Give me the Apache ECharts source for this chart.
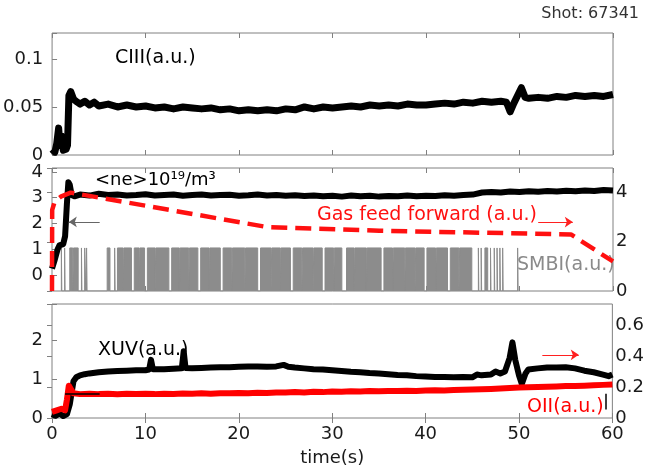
<!DOCTYPE html>
<html><head><meta charset="utf-8">
<script src="https://cdn.jsdelivr.net/npm/echarts@6/dist/echarts.min.js"></script>
<style>html,body{margin:0;padding:0;background:#fff}#c{width:647px;height:468px}</style>
</head><body><div id="c"></div>
<script>
// ---------- data ----------
const xTicks = [0, 10, 20, 30, 40, 50, 60];
const ciiiTicks = [0, 0.05, 0.1];
const neTicks = [0, 1, 2, 3, 4];
const gasTicks = [0, 2, 4];
const xuvTicks = [0, 1, 2];
const oiiTicks = [0, 0.2, 0.4, 0.6];

const ciiiT = [0,0.3,0.5,0.7,0.85,1.0,1.2,1.5,1.65,1.8,2.0,2.3,2.7,3,3.5,4,4.5,5,6,7,8,9,10,11,12,13,14,15,16,17,18,19,20,21,22,23,24,25,26,27,28,29,30,31,32,33,34,35,36,37,38,39,40,41,42,43,44,45,46,47,48,48.6,49.0,49.4,50.2,50.6,51,52,53,54,55,56,57,58,59,60];
const ciiiV = [0.006,0.003,0.012,0.028,0.01,0.02,0.005,0.006,0.01,0.062,0.066,0.058,0.055,0.053,0.056,0.052,0.055,0.051,0.053,0.050,0.052,0.050,0.051,0.049,0.050,0.048,0.050,0.049,0.048,0.049,0.047,0.048,0.046,0.047,0.046,0.047,0.046,0.048,0.047,0.050,0.048,0.050,0.049,0.050,0.051,0.050,0.052,0.051,0.052,0.051,0.053,0.052,0.052,0.053,0.054,0.053,0.055,0.054,0.056,0.055,0.056,0.055,0.045,0.054,0.070,0.060,0.059,0.060,0.059,0.061,0.060,0.062,0.061,0.062,0.061,0.063];

const neT = [0,0.3,0.6,0.8,1.0,1.2,1.4,1.6,1.75,1.9,2.1,2.4,3,4,5,6,7,8,9,10,11,12,13,14,15,16,17,18,19,20,21,22,23,24,25,26,27,28,29,30,31,32,33,34,35,36,37,38,39,40,41,42,43,44,45,46,47,48,49,50,51,52,53,54,55,56,57,58,59,60];
const neV = [0.25,0.6,1.0,1.15,1.1,1.2,1.5,2.8,3.6,3.5,3.1,3.05,3.12,3.08,3.15,3.10,3.12,3.08,3.10,3.13,3.08,3.10,3.12,3.07,3.10,3.12,3.08,3.10,3.11,3.07,3.09,3.12,3.08,3.10,3.07,3.09,3.06,3.08,3.05,3.07,3.04,3.08,3.05,3.07,3.04,3.06,3.05,3.08,3.05,3.07,3.06,3.09,3.07,3.10,3.12,3.20,3.22,3.20,3.24,3.22,3.25,3.23,3.26,3.24,3.27,3.25,3.28,3.26,3.30,3.28];

const gasT = [0,0.02,0.3,1.0,2.0,23,35,55.5,60];
const gasV = [0,3.3,3.65,3.85,4.0,2.6,2.45,2.3,1.2];

const smbiLevel = 1.75;
const smbiOn = [[1.0,1.05],[1.35,1.4],[1.9,2.22],[2.3,2.8],[3.15,3.2],[3.5,3.55],[3.7,3.75],[5.9,6.2],[6.7,6.75],[7.0,7.62],[7.7,8.5],[8.8,9.32],[9.4,9.9],[10.2,11.02],[11.1,12.5],[12.8,13.62],[13.7,14.62],[14.7,15.6],[15.9,16.82],[16.9,18.0],[18.3,19.22],[19.3,20.62],[20.7,22.0],[22.3,23.42],[23.5,24.42],[24.5,25.5],[25.8,26.72],[26.8,27.92],[28.0,28.9],[29.2,30.12],[30.2,31.0],[31.5,32.32],[32.4,33.62],[33.7,35.2],[35.5,36.42],[36.5,37.72],[37.8,38.82],[38.9,39.8],[40.1,41.02],[41.1,42.3],[42.6,43.52],[43.6,44.9],[45.6,45.65],[45.9,45.95],[46.3,46.6],[46.9,46.95],[47.3,47.35],[47.6,47.65],[47.9,47.95],[48.2,48.25],[49.8,49.85]];

const xuvT = [0,0.4,0.8,1.2,1.6,1.9,2.1,2.3,2.6,3,3.5,4,5,6,7,8,9,10,10.4,10.6,10.8,11,12,13,13.9,14.1,14.3,15,16,17,18,19,20,21,22,23,24,24.8,25.3,26,27,28,29,30,31,32,33,34,35,36,37,38,39,40,41,42,43,44,45,45.5,46,47,47.5,48,48.5,49,49.3,49.6,50,50.3,50.7,51,52,53,54,55,56,57,58,59,59.6,60];
const xuvV = [0.10,0.06,0.12,0.05,0.10,0.35,0.65,0.95,1.05,1.10,1.13,1.15,1.18,1.20,1.21,1.22,1.23,1.23,1.25,1.50,1.26,1.25,1.26,1.27,1.28,1.72,1.29,1.28,1.29,1.30,1.31,1.31,1.32,1.33,1.33,1.32,1.33,1.37,1.32,1.30,1.28,1.26,1.25,1.23,1.21,1.19,1.18,1.16,1.15,1.13,1.11,1.10,1.08,1.07,1.06,1.06,1.05,1.06,1.05,1.12,1.10,1.12,1.20,1.15,1.20,1.55,1.95,1.50,1.10,0.88,1.15,1.25,1.28,1.30,1.30,1.31,1.28,1.22,1.18,1.12,1.08,1.12];

const oiiT = [0,0.5,1.0,1.4,1.6,1.8,2.0,2.3,3,4,5,6,7,8,9,10,11,12,13,14,15,16,17,18,19,20,21,22,23,24,25,26,27,28,29,30,31,32,33,34,35,36,37,38,39,40,41,42,43,44,45,46,47,48,49,50,51,52,53,54,55,56,57,58,59,60];
const oiiV = [0.04,0.05,0.06,0.05,0.12,0.21,0.19,0.16,0.155,0.158,0.155,0.157,0.154,0.158,0.156,0.157,0.155,0.158,0.156,0.159,0.157,0.160,0.158,0.161,0.160,0.163,0.161,0.164,0.163,0.166,0.165,0.168,0.166,0.170,0.168,0.172,0.170,0.173,0.172,0.175,0.173,0.176,0.175,0.177,0.176,0.178,0.180,0.179,0.182,0.183,0.185,0.187,0.189,0.191,0.194,0.198,0.200,0.201,0.203,0.205,0.207,0.208,0.210,0.212,0.215,0.218];

// ---------- build ----------
const zip = (t, v) => t.map((x, i) => [x, v[i]]);
const smbiData = [];
smbiOn.forEach(([a, b]) => { smbiData.push([a, 0], [a, smbiLevel], [b, smbiLevel], [b, 0]); });

const FONT = 'DejaVu Sans';
const FRAME = '#808080';
const TXT = '#1a1a1a';
const gridStyle = {show: true, borderColor: FRAME, borderWidth: 1, backgroundColor: 'transparent'};
const grids = [
  Object.assign({left: 52, right: 34, top: 33, height: 122}, gridStyle),
  Object.assign({left: 52, right: 34, top: 168, height: 123}, gridStyle),
  Object.assign({left: 52, right: 34, top: 304, height: 122}, gridStyle),
  // ne axis grid: same box, bottom at the ne zero level
  {left: 52, right: 34, top: 168, height: 107, show: false}
];

const xAxes = [];
[0, 1, 2].forEach(i => {
  xAxes.push({
    type: 'value', gridIndex: i, min: 0, max: 60, interval: 10, position: 'bottom',
    axisLine: {show: false}, splitLine: {show: false},
    axisTick: {show: true, inside: true, length: 5, lineStyle: {color: FRAME}},
    axisLabel: {show: i === 2, customValues: xTicks, fontFamily: FONT, fontSize: 18, color: TXT, margin: 7},
    name: i === 2 ? 'time(s)' : '', nameLocation: 'middle', nameGap: 31,
    nameTextStyle: {fontFamily: FONT, fontSize: 18, color: TXT}
  });
});
[0, 1, 2].forEach(i => {
  xAxes.push({
    type: 'value', gridIndex: i, min: 0, max: 60, interval: 10, position: 'top',
    axisLine: {show: false}, splitLine: {show: false},
    axisTick: {show: true, inside: true, length: 5, lineStyle: {color: FRAME}},
    axisLabel: {show: false}
  });
});
// hidden x axis for the ne grid (index 6)
xAxes.push({type: 'value', gridIndex: 3, min: 0, max: 60, show: false});

function yAxis(grid, pos, min, max, interval, ticks, margin) {
  return {
    type: 'value', gridIndex: grid, position: pos, min: min, max: max, interval: interval,
    axisLine: {show: false}, splitLine: {show: false},
    axisTick: {show: true, inside: true, length: 5, lineStyle: {color: FRAME}},
    axisLabel: {customValues: ticks, fontFamily: FONT, fontSize: 18, color: TXT, margin: margin}
  };
}
const yAxes = [
  yAxis(0, 'left', 0, 0.127, 0.05, ciiiTicks, 9),
  yAxis(3, 'left', 0, 4.15, 1, neTicks, 9),
  yAxis(1, 'right', 0, 5.0, 2, gasTicks, 3),
  yAxis(2, 'left', 0, 2.94, 1, xuvTicks, 9),
  yAxis(2, 'right', 0, 0.74, 0.2, oiiTicks, 3)
];

const base = {type: 'line', showSymbol: false, symbol: 'none', animation: false, silent: true};
const arrowML = (color, segs) => ({silent: true, symbol: ['none', 'arrow'], symbolSize: 8, animation: false,
  label: {show: false}, emphasis: {disabled: true}, lineStyle: {color: color, width: 1, type: 'solid'}, data: segs});
const series = [
  Object.assign({}, base, {name: 'CIII', xAxisIndex: 0, yAxisIndex: 0, data: zip(ciiiT, ciiiV),
    lineStyle: {color: '#000', width: 7, join: 'round'}}),
  Object.assign({}, base, {name: 'SMBI', xAxisIndex: 1, yAxisIndex: 2, data: smbiData,
    lineStyle: {color: '#8c8c8c', width: 1}, areaStyle: {color: '#8c8c8c', opacity: 1, origin: 'start'}}),
  Object.assign({}, base, {name: 'ne', xAxisIndex: 6, yAxisIndex: 1, data: zip(neT, neV), clip: false,
    lineStyle: {color: '#000', width: 6, join: 'round'},
    markLine: arrowML('#666', [[{coord: [5.1, 2.06]}, {coord: [1.8, 2.06]}]])}),
  Object.assign({}, base, {name: 'gas', xAxisIndex: 1, yAxisIndex: 2, data: zip(gasT, gasV),
    lineStyle: {color: '#ff1010', width: 4.5, type: [16, 8]},
    markLine: arrowML('#ff2020', [[{coord: [52, 2.8]}, {coord: [55.7, 2.8]}]])}),
  Object.assign({}, base, {name: 'XUV', xAxisIndex: 2, yAxisIndex: 3, data: zip(xuvT, xuvV),
    lineStyle: {color: '#000', width: 6, join: 'round'},
    markLine: {silent: true, symbol: ['none', 'none'], animation: false,
      label: {show: false}, lineStyle: {color: '#000', width: 1.5, type: 'solid'},
      data: [[{coord: [1.4, 0.63]}, {coord: [5.1, 0.63]}]]}}),
  Object.assign({}, base, {name: 'OII', xAxisIndex: 2, yAxisIndex: 4, data: zip(oiiT, oiiV),
    lineStyle: {color: '#ff0000', width: 6, join: 'round'},
    markLine: arrowML('#ff2020', [[{coord: [52.5, 0.41]}, {coord: [56.4, 0.41]}]])}),
  Object.assign({}, base, {name: 'OIIbar', xAxisIndex: 2, yAxisIndex: 4, data: [],
    markLine: {silent: true, symbol: ['none', 'none'], animation: false,
      label: {show: false}, lineStyle: {color: '#000', width: 1.5, type: 'solid'},
      data: [[{coord: [59.25, 0.055]}, {coord: [59.25, 0.158]}]]}})
];

function txt(x, y, text, color, size) {
  return {type: 'text', left: x, top: y, silent: true,
    style: {text: text, fill: color, font: size + 'px "' + FONT + '"'}};
}
const graphic = [
  {type: 'text', right: 8, top: 6, silent: true, style: {text: 'Shot: 67341', fill: '#333', font: '16px "' + FONT + '"'}},
  txt(115, 49, 'CIII(a.u.)', '#000', 19),
  txt(95, 171, '<ne>10\u00b9\u2079/m\u00b3', '#000', 18),
  txt(317, 206, 'Gas feed forward (a.u.)', '#ff1010', 19),
  txt(517, 256, 'SMBI(a.u.)', '#8a8a8a', 19),
  txt(98, 341, 'XUV(a.u.)', '#000', 19),
  txt(527, 398, 'OII(a.u.)', '#ff0000', 19)
];

const chart = echarts.init(document.getElementById('c'), null, {renderer: 'canvas'});
chart.setOption({animation: false, grid: grids, xAxis: xAxes, yAxis: yAxes, series: series, graphic: graphic});
</script>
</body></html>
